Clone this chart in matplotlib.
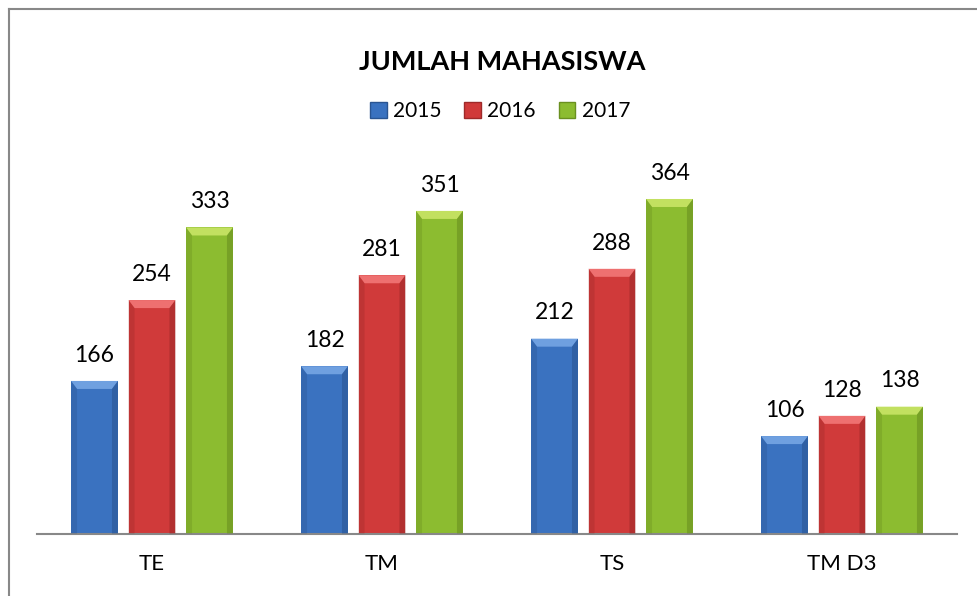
import matplotlib
matplotlib.use('Agg')
import matplotlib.pyplot as plt
import numpy as np
from matplotlib.patches import Polygon, Patch
from matplotlib.lines import Line2D

# data
categories = ['TE', 'TM', 'TS', 'TM D3']
years = ['2015', '2016', '2017']
v2015 = [166, 182, 212, 106]
v2016 = [254, 281, 288, 128]
v2017 = [333, 351, 364, 138]

colors = ['#3A72C0', '#D03A3A', '#8CBC30']
light = ['#6FA0E0', '#EE7070', '#C2E060']
dark = ['#2A5592', '#9E2A2A', '#6A9020']

plt.rcParams['font.family'] = ['Lato', 'DejaVu Sans']

W, H = 978, 596
fig = plt.figure(figsize=(W / 100, H / 100), dpi=100)
ax_l, ax_b, ax_w, ax_h = 37, 62.5, 920, 367.6
ax = fig.add_axes([ax_l / W, ax_b / H, ax_w / W, ax_h / H])
ax.set_xlim(-0.5, len(categories) - 0.5)
ax.set_ylim(0, 400)

x = np.arange(len(categories))
bw = 0.204
offsets = [-0.25, 0, 0.25]
series = [v2015, v2016, v2017]

# pixel -> data unit conversions for bevel
ux = (len(categories)) / ax_w
uy = 400 / ax_h

for i, vals in enumerate(series):
    bars = ax.bar(x + offsets[i], vals, width=bw, color=colors[i], zorder=2)
    for b, v in zip(bars, vals):
        x0 = b.get_x()
        x1 = x0 + b.get_width()
        top = b.get_height()
        bx, by = 6 * ux, 8 * uy
        # top bevel
        ax.add_patch(Polygon([[x0, top], [x1, top], [x1 - bx, top - by], [x0 + bx, top - by]],
                             closed=True, color=light[i], lw=0, zorder=3))
        # side shading
        ax.add_patch(Polygon([[x0, 0], [x0, top], [x0 + bx, top - by], [x0 + bx, 0]],
                             closed=True, color=dark[i], alpha=0.35, lw=0, zorder=3))
        ax.add_patch(Polygon([[x1, 0], [x1, top], [x1 - bx, top - by], [x1 - bx, 0]],
                             closed=True, color=dark[i], alpha=0.6, lw=0, zorder=3))
        ax.annotate(str(v), (b.get_x() + b.get_width() / 2, top), xytext=(0, 11),
                    textcoords='offset points', ha='center', va='bottom', fontsize=16.5)

for s in ['top', 'right', 'left']:
    ax.spines[s].set_visible(False)
ax.spines['bottom'].set_color('#888888')
ax.spines['bottom'].set_linewidth(1.5)
ax.set_yticks([])
ax.set_xticks(x)
ax.set_xticklabels(categories, fontsize=16)
ax.tick_params(axis='x', length=0, pad=15)

fig.text(502 / W, 1 - 62 / H, 'JUMLAH MAHASISWA', ha='center', va='center',
         fontsize=19.5, fontweight='bold')

handles = [Patch(facecolor=colors[i], edgecolor=dark[i], label=years[i]) for i in range(3)]
fig.legend(handles=handles, loc='center', bbox_to_anchor=(500 / W, 1 - 111 / H), ncol=3,
           frameon=False, fontsize=15, handlelength=0.8, handleheight=0.8,
           handletextpad=0.3, columnspacing=1.1)

# chart border
fig.add_artist(Line2D([8.5 / W, 8.5 / W], [0, 1 - 9 / H], color='#888888', lw=1.5))
fig.add_artist(Line2D([8.5 / W, 1], [1 - 9 / H, 1 - 9 / H], color='#888888', lw=1.5))

fig.savefig('out.png', dpi=100)
